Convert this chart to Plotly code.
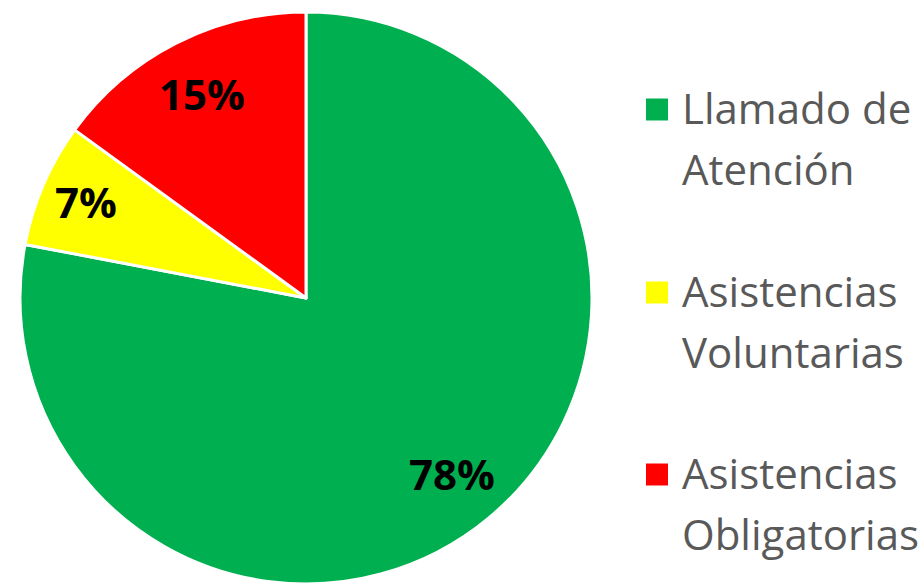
import math
import plotly.graph_objects as go

# ---- data ----
categories = ["Llamado de<br>Atención", "Asistencias<br>Voluntarias", "Asistencias<br>Obligatorias"]
values = [78, 7, 15]
colors = ["#00B050", "#FFFF00", "#FF0000"]

# ---- layout constants (pixels) ----
W, H = 924, 584
CX, CY, R = 306.0, 298.0, 286.0          # pie centre / radius
LABEL_K = [0.80, 0.84, 0.80]             # radial position of the percentage labels
LEG_SQ_X = (646, 668)                    # legend square x extent
LEG_TEXT_X = 680                         # legend text left
LEG_FIRST_Y = [108, 291, 473]            # first-line centre of each legend entry
LEG_LINE = 61                            # legend line spacing
SQ = 22


def px(x):
    return x / W


def py(y):
    return 1 - y / H


fig = go.Figure(go.Pie(
    labels=[c.replace("<br>", " ") for c in categories],
    values=values,
    sort=False,
    direction="clockwise",
    rotation=0,
    marker=dict(colors=colors, line=dict(color="white", width=3)),
    textinfo="none",
    domain=dict(x=[px(CX - R), px(CX + R)], y=[py(CY + R), py(CY - R)]),
    hoverinfo="label+percent",
    showlegend=False,
))

annotations = []
shapes = []

# percentage labels, placed at each slice's mid angle
total = sum(values)
cum = 0.0
for v, k in zip(values, LABEL_K):
    frac = v / total
    theta = 2 * math.pi * (cum + frac / 2)
    cum += frac
    lx = CX + k * R * math.sin(theta)
    ly = CY - k * R * math.cos(theta)
    annotations.append(dict(
        x=px(lx), y=py(ly - 1), xref="paper", yref="paper",
        xanchor="center", yanchor="middle", showarrow=False,
        text="<b>%d%%</b>" % round(frac * 100),
        font=dict(family="Open Sans", size=42, color="black"),
    ))

# legend
for cat, col, y0 in zip(categories, colors, LEG_FIRST_Y):
    shapes.append(dict(
        type="rect", xref="paper", yref="paper",
        x0=px(LEG_SQ_X[0]), x1=px(LEG_SQ_X[1]),
        y0=py(y0 + 1.5 - SQ / 2), y1=py(y0 + 1.5 + SQ / 2),
        fillcolor=col, line=dict(width=0),
    ))
    for i, line in enumerate(cat.split("<br>")):
        annotations.append(dict(
            x=px(LEG_TEXT_X), y=py(y0 + i * LEG_LINE - 1), xref="paper", yref="paper",
            xanchor="left", yanchor="middle", showarrow=False,
            text=line,
            font=dict(family="Open Sans", size=42, color="#595959"),
        ))

fig.update_layout(
    width=W, height=H,
    margin=dict(l=0, r=0, t=0, b=0),
    paper_bgcolor="white",
    plot_bgcolor="white",
    showlegend=False,
    annotations=annotations,
    shapes=shapes,
)

fig.write_html("out.html", config={"displayModeBar": False},
               post_script="document.body.style.margin='0';")
